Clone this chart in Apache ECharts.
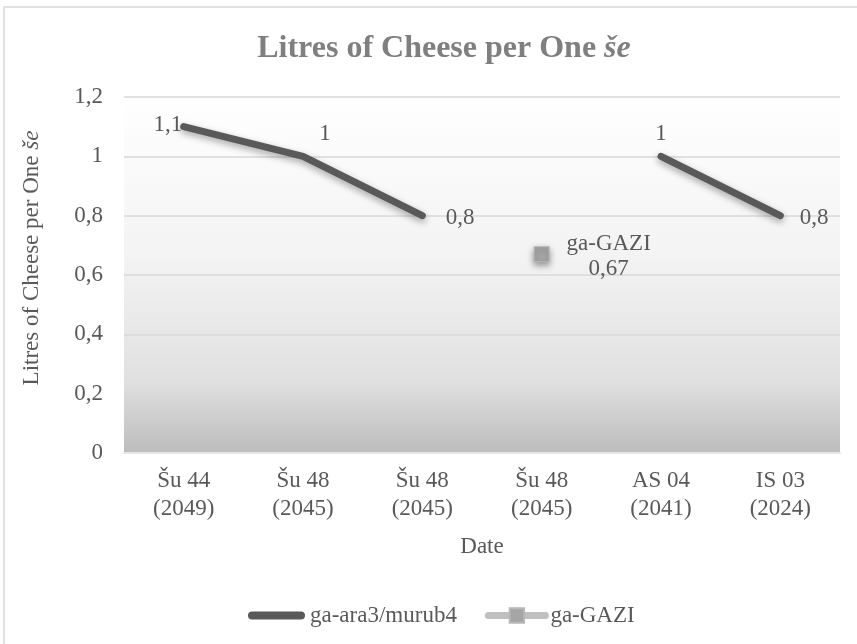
<!DOCTYPE html>
<html>
<head>
<meta charset="utf-8">
<script src="https://cdn.jsdelivr.net/npm/echarts@6/dist/echarts.min.js"></script>
<style>
  html, body { margin: 0; padding: 0; background: #fff; }
  #chart { width: 857px; height: 644px; }
</style>
</head>
<body>
<div id="chart"></div>
<script>
// Categories along the x axis (two-line labels)
const categories = [
  'Šu 44\n(2049)', 'Šu 48\n(2045)', 'Šu 48\n(2045)',
  'Šu 48\n(2045)', 'AS 04\n(2041)', 'IS 03\n(2024)'
];
// Series values (null = no value at that category)
const araValues = [1.1, 1, 0.8, null, 1, 0.8];
const gaziValues = [null, null, null, 0.67, null, null];
// Y axis range
const yMin = 0, yMax = 1.2, yStep = 0.2;

const FONT = '"Liberation Serif", "Times New Roman", serif';
const TXT = '#595959';
const FS = 23;

const comma = v => String(Math.round(v * 100) / 100).replace('.', ',');

// Per-point label placement for the main series
const araLabelPlacement = [
  { position: 'left', distance: 1, offset: [0, -2] },
  { position: 'top', distance: 10, offset: [22, 0] },
  { position: 'right', distance: 23, offset: [0, 2] },
  null,
  { position: 'top', distance: 10 },
  { position: 'right', distance: 19, offset: [0, 2] }
];

const araData = araValues.map((v, i) => {
  if (v == null) return null;
  return { value: v, label: Object.assign({}, araLabelPlacement[i]) };
});

// capsule shape used as the legend mark of the thick line series
const capsule = 'path://M4,0 L52,0 A4,4 0 0 1 52,8 L4,8 A4,4 0 0 1 4,0 Z';

const chart = echarts.init(document.getElementById('chart'), null, { renderer: 'canvas' });

chart.setOption({
  animation: false,
  backgroundColor: '#ffffff',
  textStyle: { fontFamily: FONT },
  graphic: [{
    type: 'rect',
    shape: { x: 4, y: 7, width: 900, height: 700 },
    style: { fill: 'none', stroke: '#d9d9d9', lineWidth: 1.5 },
    silent: true
  }],
  title: {
    text: 'Litres of Cheese per One {i|še}',
    left: 439,
    textAlign: 'center',
    top: 28,
    textStyle: {
      fontFamily: FONT, fontSize: 32, fontWeight: 'bold', color: '#7f7f7f',
      rich: { i: { fontFamily: FONT, fontSize: 32, fontWeight: 'bold', fontStyle: 'italic', color: '#7f7f7f' } }
    }
  },
  legend: {
    top: 599,
    left: 243,
    itemWidth: 57,
    itemHeight: 18,
    itemGap: 28,
    symbolKeepAspect: true,
    textStyle: { fontFamily: FONT, fontSize: FS, color: TXT },
    data: [
      { name: 'ga-ara3/murub4', icon: capsule, itemStyle: { color: '#595959' } },
      { name: 'ga-GAZI', lineStyle: { width: 7, cap: 'round', color: '#bfbfbf' } }
    ]
  },
  grid: {
    left: 124, right: 17, top: 97, bottom: 191,
    show: true,
    borderWidth: 0,
    backgroundColor: new echarts.graphic.LinearGradient(0, 0, 0, 1, [
      { offset: 0, color: '#ffffff' },
      { offset: 0.45, color: '#f3f3f3' },
      { offset: 0.8, color: '#e0e0e0' },
      { offset: 1, color: '#bcbcbc' }
    ])
  },
  xAxis: {
    type: 'category',
    data: categories,
    boundaryGap: true,
    name: 'Date',
    nameLocation: 'middle',
    nameGap: 82,
    nameTextStyle: { fontFamily: FONT, fontSize: FS, color: TXT },
    axisLine: { show: true, lineStyle: { color: '#e6e6e6', width: 2 } },
    axisTick: { show: false },
    axisLabel: {
      fontFamily: FONT, fontSize: FS, color: TXT, lineHeight: 28, margin: 14,
      interval: 0
    },
    splitLine: { show: false }
  },
  yAxis: {
    type: 'value',
    min: yMin, max: yMax, interval: yStep,
    name: 'Litres of Cheese per One {i|še}',
    nameLocation: 'middle',
    nameGap: 81,
    nameTextStyle: {
      fontFamily: FONT, fontSize: FS, color: TXT,
      padding: [0, 0, 0, 34],
      rich: { i: { fontFamily: FONT, fontSize: FS, fontStyle: 'italic', color: TXT } }
    },
    axisLine: { show: false },
    axisTick: { show: false },
    axisLabel: {
      fontFamily: FONT, fontSize: FS, color: TXT, margin: 21,
      formatter: v => comma(v)
    },
    splitLine: { show: true, lineStyle: { color: '#d9d9d9', width: 1.5 } }
  },
  series: [
    {
      name: 'ga-ara3/murub4',
      type: 'line',
      data: araData,
      connectNulls: false,
      showSymbol: true,
      symbol: 'circle',
      symbolSize: 1,
      color: '#595959',
      itemStyle: { color: '#595959' },
      lineStyle: {
        color: '#595959', width: 7, cap: 'round', join: 'round',
        shadowColor: 'rgba(0,0,0,0.35)', shadowBlur: 7, shadowOffsetY: 3
      },
      label: {
        show: true,
        fontFamily: FONT, fontSize: FS, color: TXT,
        formatter: p => comma(p.value)
      },
      z: 3
    },
    {
      name: 'ga-GAZI',
      type: 'line',
      data: gaziValues,
      connectNulls: false,
      showSymbol: true,
      symbol: 'rect',
      symbolSize: 15,
      color: '#a5a5a5',
      itemStyle: {
        color: '#a5a5a5', borderColor: '#b8b8b8', borderWidth: 1,
        shadowColor: 'rgba(0,0,0,0.4)', shadowBlur: 6, shadowOffsetY: 3
      },
      lineStyle: { color: '#bfbfbf', width: 7, cap: 'round' },
      label: {
        show: true,
        position: 'right',
        distance: 0,
        align: 'center',
        offset: [59, 2],
        fontFamily: FONT, fontSize: FS, color: TXT, lineHeight: 25,
        formatter: p => p.seriesName + '\n' + comma(p.value)
      },
      z: 4
    }
  ]
});
</script>
</body>
</html>
